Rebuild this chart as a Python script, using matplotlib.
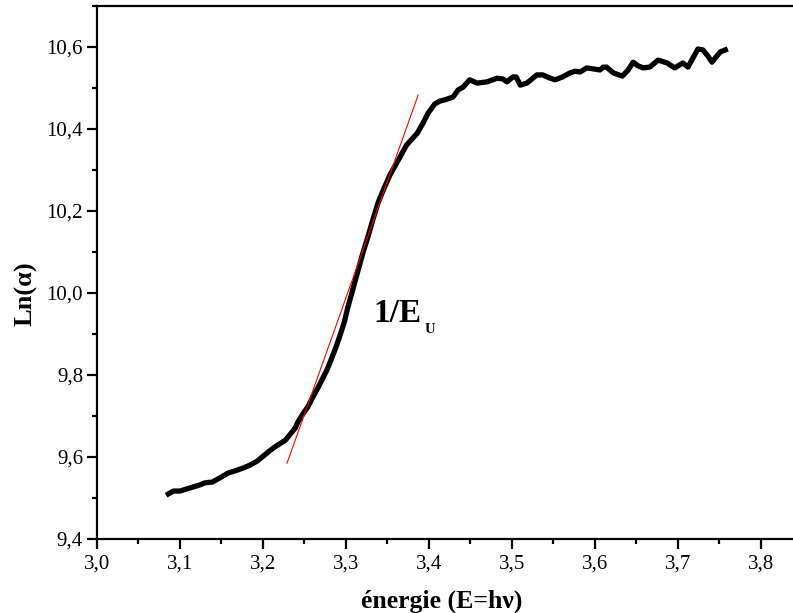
import matplotlib
matplotlib.use("Agg")
import matplotlib.pyplot as plt
from matplotlib.ticker import FixedLocator, FixedFormatter, MultipleLocator

plt.rcParams['font.family'] = ['Liberation Serif', 'DejaVu Serif']

# absorption edge: energy (eV) vs Ln(alpha)
energy = [3.086, 3.092, 3.100, 3.108, 3.116, 3.124, 3.130, 3.139, 3.148, 3.158,
          3.166, 3.176, 3.184, 3.193, 3.202, 3.208, 3.214, 3.220, 3.227, 3.233,
          3.239, 3.242, 3.248, 3.254, 3.260, 3.266, 3.271, 3.277, 3.282, 3.288,
          3.293, 3.298, 3.302, 3.308, 3.314, 3.320, 3.327, 3.333, 3.339, 3.346,
          3.353, 3.363, 3.373, 3.386, 3.393, 3.399, 3.407, 3.413, 3.419, 3.429,
          3.435, 3.441, 3.449, 3.458, 3.470, 3.482, 3.489, 3.494, 3.501, 3.505,
          3.510, 3.518, 3.530, 3.537, 3.546, 3.552, 3.561, 3.570, 3.576, 3.582,
          3.590, 3.600, 3.606, 3.610, 3.614, 3.622, 3.633, 3.640, 3.646, 3.652,
          3.658, 3.666, 3.676, 3.687, 3.696, 3.706, 3.712, 3.718, 3.724, 3.730,
          3.736, 3.741, 3.746, 3.751, 3.757]
ln_alpha = [9.510, 9.517, 9.517, 9.522, 9.527, 9.532, 9.537, 9.539, 9.549, 9.561,
            9.566, 9.573, 9.580, 9.590, 9.605, 9.615, 9.624, 9.632, 9.641, 9.656,
            9.671, 9.685, 9.705, 9.722, 9.746, 9.768, 9.788, 9.812, 9.837, 9.868,
            9.898, 9.929, 9.963, 10.007, 10.051, 10.095, 10.141, 10.183, 10.222, 10.256,
            10.288, 10.324, 10.361, 10.390, 10.415, 10.439, 10.461, 10.468, 10.471, 10.478,
            10.495, 10.502, 10.520, 10.512, 10.515, 10.524, 10.522, 10.515, 10.527, 10.527,
            10.507, 10.512, 10.532, 10.532, 10.524, 10.520, 10.527, 10.537, 10.541, 10.539,
            10.549, 10.546, 10.544, 10.551, 10.551, 10.537, 10.529, 10.544, 10.563, 10.554,
            10.549, 10.551, 10.568, 10.561, 10.549, 10.561, 10.551, 10.573, 10.595, 10.593,
            10.578, 10.563, 10.576, 10.588, 10.593]

# linear fit (Urbach tail), slope = 1/Eu
tangent_x = [3.229, 3.387]
tangent_y = [9.585, 10.483]

x_ticks = [3.0, 3.1, 3.2, 3.3, 3.4, 3.5, 3.6, 3.7, 3.8]
x_labels = ['3,0', '3,1', '3,2', '3,3', '3,4', '3,5', '3,6', '3,7', '3,8']
y_ticks = [9.4, 9.6, 9.8, 10.0, 10.2, 10.4, 10.6]
y_labels = ['9,4', '9,6', '9,8', '10,0', '10,2', '10,4', '10,6']

fig = plt.figure(figsize=(7.93, 6.13), dpi=100)
ax = fig.add_axes([0.1223, 0.1207, 0.8777, 0.8695])

ax.plot(energy, ln_alpha, color='black', linewidth=3.8, solid_joinstyle='round')
ax.plot(tangent_x, tangent_y, color='red', linewidth=0.8)

ax.set_xlim(3.0, 3.8386)
ax.set_ylim(9.4, 10.7)

ax.xaxis.set_major_locator(FixedLocator(x_ticks))
ax.xaxis.set_major_formatter(FixedFormatter(x_labels))
ax.xaxis.set_minor_locator(MultipleLocator(0.05))
ax.yaxis.set_major_locator(FixedLocator(y_ticks))
ax.yaxis.set_major_formatter(FixedFormatter(y_labels))
ax.yaxis.set_minor_locator(MultipleLocator(0.1))

ax.spines['right'].set_visible(False)
for s in ['left', 'bottom', 'top']:
    ax.spines[s].set_linewidth(1.6)
ax.tick_params(which='major', direction='out', length=7, width=1.6, labelsize=15)
ax.tick_params(which='minor', direction='out', length=3.6, width=1.6)
ax.tick_params(axis='x', which='major', pad=4)
ax.tick_params(axis='y', which='major', pad=3)
ax.tick_params(top=False, right=False, which='both')

ax.set_xlabel('énergie (E=hν)', fontsize=18.5, fontweight='bold')
ax.xaxis.label.set_va('baseline')
ax.xaxis.set_label_coords(0.495, -0.128)
ax.set_ylabel('Ln(α)', fontsize=19, fontweight='bold')
ax.yaxis.set_label_coords(-0.102, 0.46)
ax.yaxis.label.set_va('center')

ax.text(3.3325, 9.929, '1/E', fontsize=24, fontweight='bold', va='baseline')
ax.text(3.395, 9.902, 'U', fontsize=10.5, fontweight='bold', va='baseline')

fig.savefig('out.png', dpi=100)
